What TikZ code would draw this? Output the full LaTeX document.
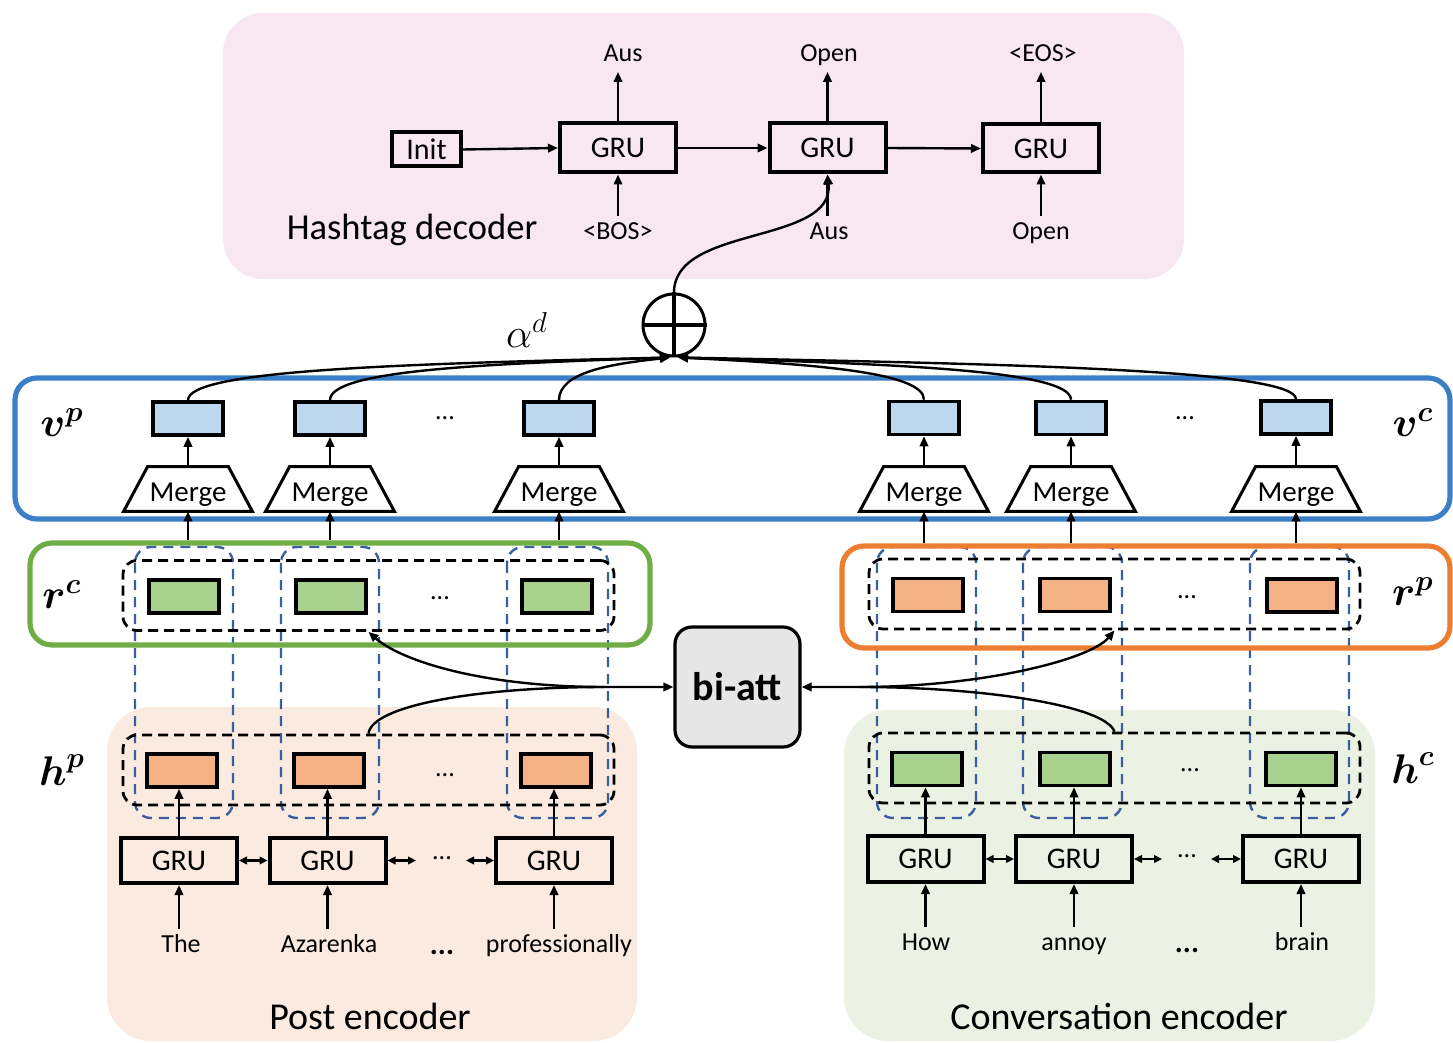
\documentclass[tikz,border=0pt]{standalone}
\usepackage{amsmath}
\usepackage{fontspec}
\setmainfont{Carlito}
\usetikzlibrary{arrows.meta}
\definecolor{pinkbg}{HTML}{F8E6F0}
\definecolor{peachbg}{HTML}{FBEADF}
\definecolor{greenbg}{HTML}{EBF2E3}
\definecolor{bluefr}{HTML}{3A7FC7}
\definecolor{greenfr}{HTML}{70AD47}
\definecolor{orangefr}{HTML}{ED7D31}
\definecolor{lblue}{HTML}{BDD7EE}
\definecolor{lgreen}{HTML}{A9D18E}
\definecolor{lorange}{HTML}{F4B183}
\definecolor{lgray}{HTML}{E6E6E6}
\definecolor{colblue}{HTML}{3A5E9E}
\begin{document}
\begin{tikzpicture}[x=0.5pt,y=-0.5pt,
  conn/.style={line width=1.2pt,-{Triangle[length=5pt,width=4.2pt]}},
  biconn/.style={line width=1.2pt,{Triangle[length=4pt,width=3.8pt]}-{Triangle[length=4pt,width=3.8pt]}},
  gru/.style={draw,line width=2pt,minimum width=58pt,minimum height=23pt,inner sep=0pt,font=\fontsize{15}{18}\selectfont},
  cell/.style={draw,line width=1.8pt,minimum width=35pt,minimum height=16.5pt,inner sep=0pt},
  txt/.style={font=\fontsize{13}{15}\selectfont,inner sep=2.5pt,text height=9pt,text depth=2.5pt},
  title/.style={font=\fontsize{19}{22}\selectfont,inner sep=0pt},
  mlab/.style={font=\fontsize{20}{24}\selectfont,inner sep=0pt},
  frame/.style={draw,line width=2.6pt,rounded corners=11pt,inner sep=0pt},
  dbox/.style={draw,dash pattern=on 5pt off 3pt,line width=1.4pt,rounded corners=7pt,inner sep=0pt,minimum width=245.5pt,minimum height=35pt},
  col/.style={draw=colblue,dash pattern=on 5pt off 3.5pt,line width=1.2pt,rounded corners=8pt},
  dots/.style={font=\fontsize{13}{15}\selectfont,inner sep=0pt},
  mg/.style={minimum width=64pt,minimum height=22pt,inner sep=0pt},
  mgt/.style={font=\fontsize{14.5}{17}\selectfont,inner sep=0pt}
]
\useasboundingbox (0,0) rectangle (1453,1043);
% backgrounds
\fill[pinkbg,rounded corners=20pt] (223,13) rectangle (1184,279);
\fill[peachbg,rounded corners=22pt] (107,707) rectangle (637,1041);
\fill[greenbg,rounded corners=22pt] (844,710) rectangle (1375,1041);

% decoder
\node[gru,minimum width=34.5pt,minimum height=17pt] (init) at (426.5,149.5) {Init};
\node[gru,minimum height=24.5pt] (dg1) at (618,148) {GRU};
\node[gru,minimum height=24.5pt] (dg2) at (827.5,148) {GRU};
\node[gru,minimum height=24pt] (dg3) at (1041,148.5) {GRU};
\node[txt] (o1) at (623,55) {Aus};
\node[txt] (o2) at (829,55) {Open};
\node[txt] (o3) at (1043,55) {<EOS>};
\node[txt] (i1) at (618,233) {<BOS>};
\node[txt] (i2) at (829,233) {Aus};
\node[txt] (i3) at (1041,233) {Open};
\node[title,font=\fontsize{18.3}{22}\selectfont] (hd) at (412,230) {Hashtag decoder};
\draw[conn] (init.east) -- (dg1.west);
\draw[conn] (dg1.east) -- (dg2.west);
\draw[conn] (dg2.east) -- (dg3.west);
\foreach \g/\o in {dg1/o1,dg2/o2,dg3/o3} \draw[conn] (\g.north) -- (\g.north |- \o.south);
\foreach \g/\i in {dg1/i1,dg2/i2,dg3/i3} \draw[conn] (\g.south |- \i.north) -- (\g.south);

% oplus
\node[draw,circle,line width=1.5pt,minimum size=31pt,inner sep=0pt] (ox) at (674,325) {};
\draw[line width=2.2pt] (ox.north) -- (ox.south) (ox.west) -- (ox.east);
\node[mlab] (alpha) at (527,330) {$\alpha^{d}$};
\draw[conn] (ox.north) .. controls (674,225) and (835,245) .. (dg2.south);

% blue dashed columns
\foreach \a/\b in {135/233,281/379,507/608,877/976,1023/1122,1250/1349}
  \draw[col] (\a,547) rectangle (\b,818);

% frames
\node[frame,draw=bluefr,minimum width=717.5pt,minimum height=70.5pt] (bf) at (732.5,448.5) {};
\node[frame,draw=greenfr,minimum width=310pt,minimum height=51pt] (gf) at (340,594) {};
\node[frame,draw=orangefr,minimum width=304pt,minimum height=51pt] (of) at (1146,597) {};

% dashed black boxes
\node[dbox] (rcd) at (368.5,595.5) {};
\node[dbox] (rpd) at (1114.5,594) {};
\node[dbox] (hpd) at (368.5,770) {};
\node[dbox] (hcd) at (1114.5,768) {};

% v row
\node[cell,fill=lblue] (vp1) at (188,418.5) {};
\node[cell,fill=lblue] (vp2) at (330,418.5) {};
\node[cell,fill=lblue] (vp3) at (559,418.5) {};
\node[cell,fill=lblue] (vc1) at (924,418) {};
\node[cell,fill=lblue] (vc2) at (1071,418) {};
\node[cell,fill=lblue] (vc3) at (1296,417.5) {};
\node[dots] (dv1) at (445,418) {...};
\node[dots] (dv2) at (1185,418) {...};

% merge
\foreach \n/\x in {mp1/188,mp2/330,mp3/559,mc1/924,mc2/1071,mc3/1296} {
  \node[mg] (\n) at (\x,489) {};
  \draw[line width=1.5pt,fill=white] (\n.south west) -- (\n.south east) -- ([xshift=-12pt]\n.north east) -- ([xshift=12pt]\n.north west) -- cycle;
  \node[mgt] (\n t) at (\x,495) {Merge};
}
\foreach \m/\v in {mp1/vp1,mp2/vp2,mp3/vp3,mc1/vc1,mc2/vc2,mc3/vc3}
  \draw[conn] (\m.north) -- (\m.north |- \v.south);
\foreach \m in {mp1,mp2,mp3} \draw[conn] (\m.south |- gf.north) -- (\m.south);
\foreach \m in {mc1,mc2,mc3} \draw[conn] (\m.south |- of.north) -- (\m.south);

% r row
\node[cell,fill=lgreen] (rc1) at (184,596.5) {};
\node[cell,fill=lgreen] (rc2) at (331,596.5) {};
\node[cell,fill=lgreen] (rc3) at (557,596.5) {};
\node[cell,fill=lorange] (rp1) at (928,595) {};
\node[cell,fill=lorange] (rp2) at (1075,595) {};
\node[cell,fill=lorange] (rp3) at (1302,595.5) {};
\node[dots] (dr1) at (440,598) {...};
\node[dots] (dr2) at (1187,597) {...};

% h row
\node[cell,fill=lorange] (hp1) at (182,770.5) {};
\node[cell,fill=lorange] (hp2) at (329,770.5) {};
\node[cell,fill=lorange] (hp3) at (556,770.5) {};
\node[cell,fill=lgreen] (hc1) at (927,769) {};
\node[cell,fill=lgreen] (hc2) at (1075,769) {};
\node[cell,fill=lgreen] (hc3) at (1301,769) {};
\node[dots] (dh1) at (445,775) {...};
\node[dots] (dh2) at (1190,770) {...};

% math labels
\node[mlab] (lvp) at (62,423) {$\boldsymbol{v}^{\boldsymbol{p}}$};
\node[mlab] (lvc) at (1413,423) {$\boldsymbol{v}^{\boldsymbol{c}}$};
\node[mlab] (lrc) at (62,595) {$\boldsymbol{r}^{\boldsymbol{c}}$};
\node[mlab] (lrp) at (1413,592) {$\boldsymbol{r}^{\boldsymbol{p}}$};
\node[mlab] (lhp) at (62,770) {$\boldsymbol{h}^{\boldsymbol{p}}$};
\node[mlab] (lhc) at (1413,768) {$\boldsymbol{h}^{\boldsymbol{c}}$};

% curves to oplus
\draw[conn] (vp1.north) .. controls (188,370) and (399,364) .. ([xshift=-2pt]ox.south);
\draw[conn] (vp2.north) .. controls (330,370) and (485,364) .. ([xshift=-2pt]ox.south);
\draw[conn] (vp3.north) .. controls (559,372) and (611,364) .. ([xshift=-2pt]ox.south);
\draw[conn] (vc1.north) .. controls (924,372) and (812,364) .. ([xshift=2pt]ox.south);
\draw[conn] (vc2.north) .. controls (1071,370) and (892,364) .. ([xshift=2pt]ox.south);
\draw[conn] (vc3.north) .. controls (1296,370) and (1016,364) .. ([xshift=2pt]ox.south);

% encoders
\node[gru,minimum height=22.5pt] (gp1) at (179,860.5) {GRU};
\node[gru,minimum height=22.5pt] (gp2) at (327.5,860.5) {GRU};
\node[gru,minimum height=22.5pt] (gp3) at (554,860.5) {GRU};
\node[gru,minimum height=23pt] (gc1) at (925.5,859) {GRU};
\node[gru,minimum height=23pt] (gc2) at (1074,859) {GRU};
\node[gru,minimum height=23pt] (gc3) at (1301,859) {GRU};
\node[dots] (dg) at (442,858) {...};
\node[dots] (dgc) at (1187,856) {...};
\coordinate (pa) at (416,860.5);
\coordinate (pb) at (466,860.5);
\coordinate (ca) at (1162,859);
\coordinate (cb) at (1211,859);
\draw[biconn] (gp1.east) -- (gp2.west);
\draw[biconn] (gp2.east) -- (pa);
\draw[biconn] (pb) -- (gp3.west);
\draw[biconn] (gc1.east) -- (gc2.west);
\draw[biconn] (gc2.east) -- (ca);
\draw[biconn] (cb) -- (gc3.west);

\node[txt] (w1) at (181,946) {The};
\node[txt] (w2) at (329,946) {Azarenka};
\node[dots,font=\fontsize{15}{17}\selectfont\bfseries] (w3) at (442,952) {...};
\node[txt] (w4) at (559,946) {professionally};
\node[txt] (u1) at (926,944) {How};
\node[txt] (u2) at (1074,944) {annoy};
\node[dots,font=\fontsize{15}{17}\selectfont\bfseries] (u3) at (1187,950) {...};
\node[txt] (u4) at (1302,944) {brain};
\foreach \g/\w in {gp1/w1,gp2/w2,gp3/w4,gc1/u1,gc2/u2,gc3/u4}
  \draw[conn] (\g.south |- \w.north) -- (\g.south);
\foreach \g/\h in {gp1/hp1,gp2/hp2,gp3/hp3,gc1/hc1,gc2/hc2,gc3/hc3}
  \draw[conn] (\g.north) -- (\g.north |- \h.south);
\node[title] (pe) at (370,1016) {Post encoder};
\node[title] (ce) at (1119,1016) {Conversation encoder};

% bi-att
\node[draw,line width=1.6pt,fill=lgray,rounded corners=8.5pt,minimum width=62.5pt,minimum height=60pt,inner sep=0pt,font=\fontsize{20}{24}\selectfont\bfseries] (biatt) at (737.5,687) {bi-att};
\coordinate (jl) at (605,687);
\coordinate (jr) at (860,687);
\draw[conn] (hpd.north) .. controls (372,705) and (480,687) .. (jl) -- (biatt.west);
\draw[conn] (jl) .. controls (480,687) and (400,660) .. (rcd.south);
\draw[conn] (hcd.north) .. controls (1105,705) and (980,687) .. (jr) -- (biatt.east);
\draw[conn] (jr) .. controls (980,687) and (1090,660) .. (rpd.south);
\end{tikzpicture}
\end{document}
